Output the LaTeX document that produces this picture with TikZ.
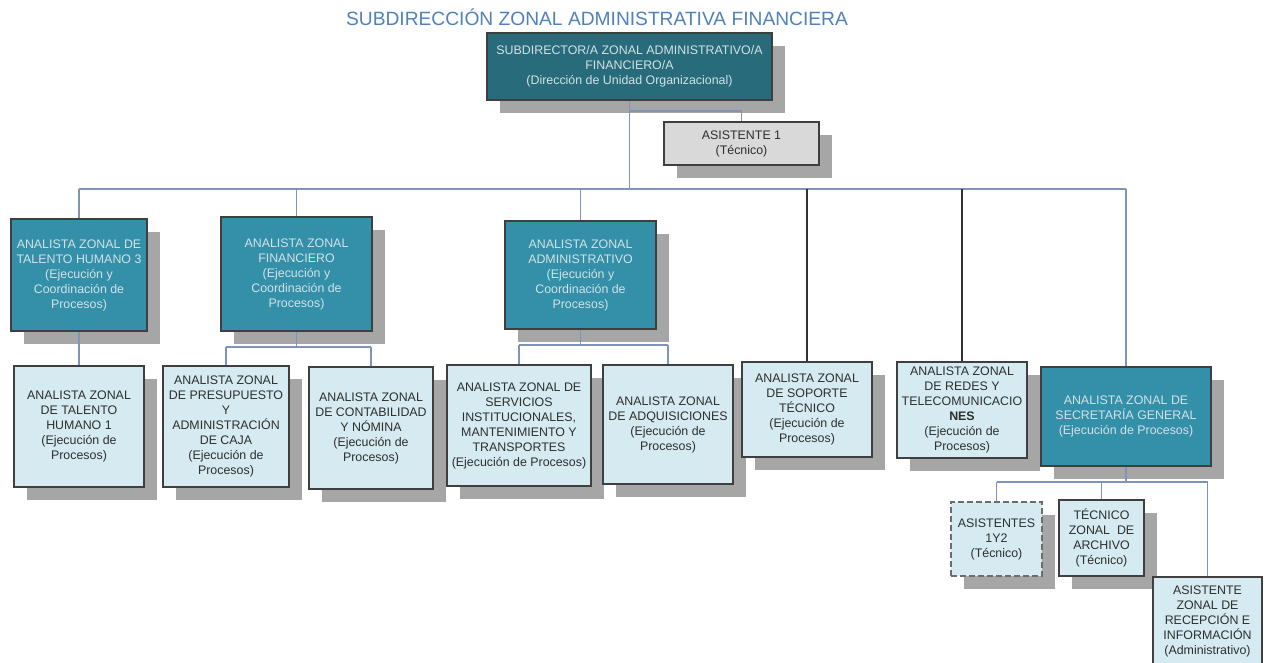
\documentclass[tikz,border=0pt]{standalone}
\usepackage{fontspec}
\setmainfont{Liberation Sans}
\usetikzlibrary{shadows}
\definecolor{titleblue}{HTML}{4F81BD}
\definecolor{darkteal}{HTML}{286B7A}
\definecolor{tealone}{HTML}{3390A8}
\definecolor{lightfill}{HTML}{D5EBF1}
\definecolor{grayfill}{HTML}{D9D9D9}
\definecolor{shadowgray}{HTML}{A6A6A6}
\definecolor{bordergray}{HTML}{3F3F3F}
\definecolor{connblue}{HTML}{8094BA}
\definecolor{lighttext}{HTML}{D2E2E8}
\definecolor{darktext}{HTML}{2E2E2E}
\tikzset{
  boxbase/.style={draw=bordergray, line width=1.3pt, inner sep=0pt, align=center,
    font=\fontsize{12.4}{15}\selectfont},
  shad/.style={drop shadow={shadow xshift=13pt, shadow yshift=-13pt, fill=shadowgray, opacity=1}},
  topbx/.style={boxbase, shad, fill=darkteal, text=lighttext},
  tealbx/.style={boxbase, shad, fill=tealone, text=lighttext},
  lightbx/.style={boxbase, shad, fill=lightfill, text=darktext},
  graybx/.style={boxbase, shad, fill=grayfill, text=darktext},
  dashbx/.style={lightbx, draw=gray!85!black, dash pattern=on 6pt off 3pt, line width=1.6pt},
  conn/.style={draw=connblue, line width=1.3pt},
  connblack/.style={draw=black!80, line width=1.2pt},
  sz/.style 2 args={minimum width=#1pt, minimum height=#2pt},
}
\begin{document}
\begin{tikzpicture}[x=1pt,y=-1pt]
\useasboundingbox (0,0) rectangle (1267,662);
\clip (0,0) rectangle (1267,662);
\fill[white] (0,0) rectangle (1267,662);

\node[font=\fontsize{19.2}{22}\selectfont, text=titleblue, anchor=base, inner sep=0pt] (title) at (597,25) {SUBDIRECCIÓN ZONAL ADMINISTRATIVA FINANCIERA};

\node[topbx, sz={285}{67}] (top) at (629.5,66.5) {SUBDIRECTOR/A ZONAL ADMINISTRATIVO/A\\FINANCIERO/A\\(Dirección de Unidad Organizacional)};
\node[graybx, sz={155}{43}] (asist1) at (741.5,143.5) {ASISTENTE 1\\(Técnico)};

\node[tealbx, sz={136}{112}] (th3) at (79,275) {ANALISTA ZONAL DE\\TALENTO HUMANO 3\\(Ejecución y\\Coordinación de\\Procesos)};
\node[tealbx, sz={151}{114}] (fin) at (296.5,274) {ANALISTA ZONAL\\FINANCIERO\\(Ejecución y\\Coordinación de\\Procesos)};
\node[tealbx, sz={151}{108}] (adm) at (580.5,275) {ANALISTA ZONAL\\ADMINISTRATIVO\\(Ejecución y\\Coordinación de\\Procesos)};

\node[lightbx, sz={130}{121}] (th1) at (79,426.5) {ANALISTA ZONAL\\DE TALENTO\\HUMANO 1\\(Ejecución de\\Procesos)};
\node[lightbx, sz={126}{121}] (pres) at (226,426.5) {ANALISTA ZONAL\\DE PRESUPUESTO\\Y\\ADMINISTRACIÓN\\DE CAJA\\(Ejecución de\\Procesos)};
\node[lightbx, sz={124}{122}] (cont) at (371,428) {ANALISTA ZONAL\\DE CONTABILIDAD\\Y NÓMINA\\(Ejecución de\\Procesos)};
\node[lightbx, sz={144}{121}] (serv) at (519,425.5) {ANALISTA ZONAL DE\\SERVICIOS\\INSTITUCIONALES,\\MANTENIMIENTO Y\\TRANSPORTES\\(Ejecución de Procesos)};
\node[lightbx, sz={130}{119}] (adq) at (668,424.5) {ANALISTA ZONAL\\DE ADQUISICIONES\\(Ejecución de\\Procesos)};
\node[lightbx, sz={130}{95}] (sop) at (807,409.5) {ANALISTA ZONAL\\DE SOPORTE\\TÉCNICO\\(Ejecución de\\Procesos)};
\node[lightbx, sz={130}{96}] (red) at (962,410) {ANALISTA ZONAL\\DE REDES Y\\TELECOMUNICACIO\\\textbf{NES}\\(Ejecución de\\Procesos)};
\node[tealbx, sz={170}{99}] (sec) at (1126,416.5) {ANALISTA ZONAL DE\\SECRETARÍA GENERAL\\(Ejecución de Procesos)};

\node[dashbx, sz={91}{74}] (asis12) at (996.5,539) {ASISTENTES\\1Y2\\(Técnico)};
\node[lightbx, sz={85}{76}] (tec) at (1101.5,538) {TÉCNICO\\ZONAL\ \ DE\\ARCHIVO\\(Técnico)};
\node[boxbase, fill=lightfill, text=darktext, sz={109}{89}] (rec) at (1207.5,621.5) {ASISTENTE\\ZONAL DE\\RECEPCIÓN E\\INFORMACIÓN\\(Administrativo)};

% connectors
\coordinate (busy) at (0,189);
\coordinate (asy) at (0,111);
\coordinate (finy) at (0,347);
\coordinate (admy) at (0,345);
\coordinate (secy) at (0,482);

\draw[conn] (top.south) -- (top.south |- busy);
\draw[conn] (top.south |- asy) -| (asist1.north);
\draw[conn] (th3.north |- busy) -- (sec.north |- busy);
\draw[conn] (th3.north |- busy) -- (th3.north);
\draw[conn] (fin.north |- busy) -- (fin.north);
\draw[conn] (adm.north |- busy) -- (adm.north);
\draw[connblack] (sop.north |- busy) -- (sop.north);
\draw[connblack] (red.north |- busy) -- (red.north);
\draw[conn] (sec.north |- busy) -- (sec.north);

\draw[conn] (th3.south) -- (th1.north);

\draw[conn] (fin.south) -- (fin.south |- finy);
\draw[conn] (pres.north |- finy) -- (cont.north |- finy);
\draw[conn] (pres.north |- finy) -- (pres.north);
\draw[conn] (cont.north |- finy) -- (cont.north);

\draw[conn] (adm.south) -- (adm.south |- admy);
\draw[conn] (serv.north |- admy) -- (adq.north |- admy);
\draw[conn] (serv.north |- admy) -- (serv.north);
\draw[conn] (adq.north |- admy) -- (adq.north);

\draw[conn] (sec.south) -- (sec.south |- secy);
\draw[conn] (asis12.north |- secy) -- (rec.north |- secy);
\draw[conn] (asis12.north |- secy) -- (asis12.north);
\draw[conn] (tec.north |- secy) -- (tec.north);
\draw[conn] (rec.north |- secy) -- (rec.north);
\end{tikzpicture}
\end{document}
